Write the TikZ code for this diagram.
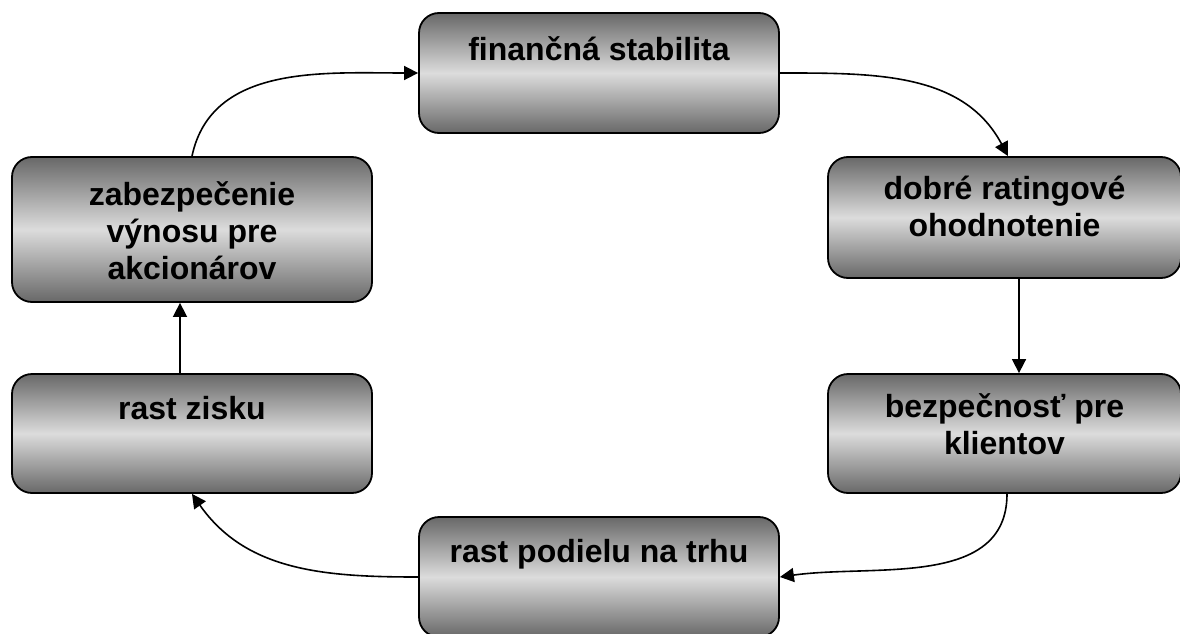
\documentclass[tikz,border=0pt]{standalone}
\usepackage{fontspec}
\setmainfont{Liberation Sans}
\usetikzlibrary{arrows.meta}
\definecolor{boxdark}{RGB}{104,104,104}
\definecolor{boxlight}{RGB}{220,220,220}
\begin{document}
\begin{tikzpicture}[x=1pt,y=1pt,
  stagebox/.style={draw=black, line width=1.8pt, rounded corners=20pt,
    top color=boxdark, bottom color=boxdark, middle color=boxlight,
    inner sep=0pt},
  lbl/.style={font=\fontsize{32}{37}\bfseries\selectfont, align=center,
    anchor=north, inner sep=0pt},
  link/.style={line width=1.6pt, -{Triangle[length=14pt,width=14pt]}}]
\useasboundingbox (0,0) rectangle (1180,-634);
% boxes
\node[stagebox, minimum width=360pt, minimum height=120pt] (fin) at (599,-73) {};
\node[stagebox, minimum width=360pt, minimum height=145pt] (lu) at (192,-229.5) {};
\node[stagebox, minimum width=353pt, minimum height=121pt] (ru) at (1004.5,-217.5) {};
\node[stagebox, minimum width=353pt, minimum height=119pt] (rl) at (1004.5,-433.5) {};
\node[stagebox, minimum width=360pt, minimum height=119pt] (ll) at (192,-433.5) {};
\node[stagebox, minimum width=360pt, minimum height=120pt] (bot) at (599,-577) {};
% labels
\node[lbl] (finT) at ([yshift=-24pt]fin.north) {finančná stabilita};
\node[lbl] (luT) at ([yshift=-25pt]lu.north) {zabezpečenie\\výnosu pre\\akcionárov};
\node[lbl] (ruT) at ([yshift=-20pt]ru.north) {dobré ratingové\\ohodnotenie};
\node[lbl] (rlT) at ([yshift=-20pt]rl.north) {bezpečnosť pre\\klientov};
\node[lbl] (llT) at ([yshift=-23pt]ll.north) {rast zisku};
\node[lbl] (botT) at ([yshift=-23pt]bot.north) {rast podielu na trhu};
% connectors
\draw[link] (lu.north) to[out=78,in=180] (fin.west);
\draw[link] (fin.east) to[out=0,in=118] ([xshift=3.5pt]ru.north);
\draw[link] ([xshift=14.5pt]ru.south) -- ([xshift=14.5pt]rl.north);
\draw[link] ([xshift=2.5pt]rl.south) to[out=-90,in=8] (bot.east);
\draw[link] (bot.west) to[out=180,in=-55] (ll.south);
\draw[link] ([xshift=-12pt]ll.north) -- ([xshift=-12pt]lu.south);
\end{tikzpicture}
\end{document}
